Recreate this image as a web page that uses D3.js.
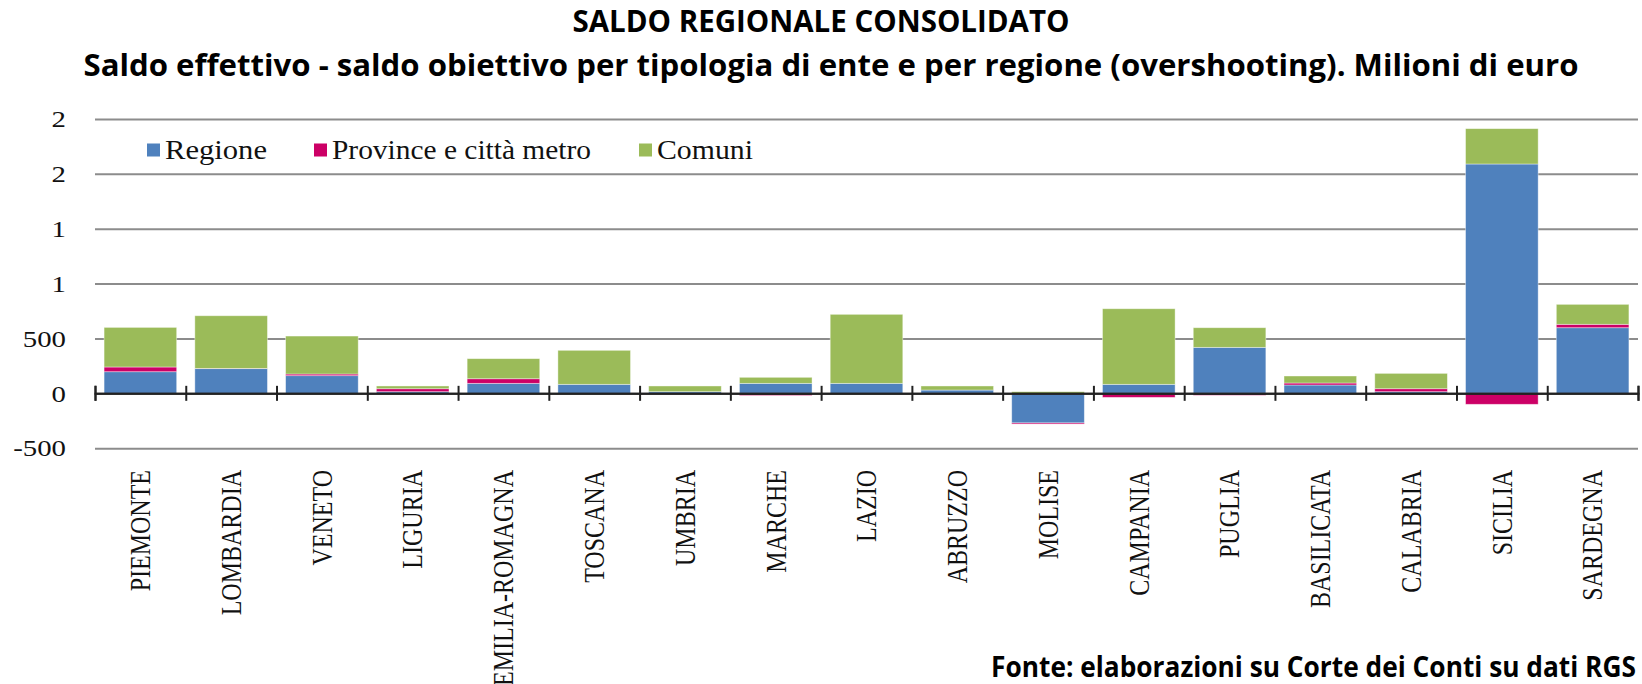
<!DOCTYPE html>
<html>
<head>
<meta charset="utf-8">
<script src="https://cdn.jsdelivr.net/npm/d3@7"></script>
<style>
  body { margin: 0; background: #fff; }
  svg { display: block; }
</style>
</head>
<body>
<div id="chart"></div>
<script>
var regions = ["PIEMONTE", "LOMBARDIA", "VENETO", "LIGURIA", "EMILIA-ROMAGNA", "TOSCANA", "UMBRIA", "MARCHE", "LAZIO",
               "ABRUZZO", "MOLISE", "CAMPANIA", "PUGLIA", "BASILICATA", "CALABRIA", "SICILIA", "SARDEGNA"];
var regione  = [197, 225, 161, 15, 91, 82, 15, 91, 91, 30, -270, 82, 419, 76, 15, 2090, 598];
var province = [43, 2, 15, 27, 42, 0, 0, -20, 0, 0, -10, -37, -18, 18, 27, -100, 31];
var comuni   = [361, 480, 346, 25, 183, 310, 52, 55, 629, 37, 15, 689, 179, 64, 140, 322, 182];

var seriesNames = ["Regione", "Province e città metro", "Comuni"];
var yTickValues = [-500, 0, 500, 1000, 1500, 2000, 2500];
var yTickLabels = ["-500", "0", "500", "1", "1", "2", "2"];

var width = 1642, height = 684;
var colors = {regione: "#4f81bd", province: "#cc0066", comuni: "#9bbb59"};
var serif = "'Liberation Serif', 'DejaVu Serif', serif";
var sans = "'Open Sans', 'Noto Sans', sans-serif";

var svg = d3.select("#chart")
            .append("svg")
            .attr("width", width)
            .attr("height", height);

var table = regions.map(function(r, i) {
    return {region: r, regione: regione[i], province: province[i], comuni: comuni[i]};
});

var x = d3.scaleBand()
          .domain(regions)
          .range([95, 1638])
          .paddingInner(0.2)
          .paddingOuter(0.1);

// boundaries between categories, for the tick marks on the zero line
var edges = d3.scaleLinear()
              .domain([0, regions.length])
              .range([95, 1638]);

var y = d3.scaleLinear()
          .domain([-500, 2500])
          .range([448.2, 119]);

// stretch text horizontally like the original picture
function stretch(sel, k) {
    sel.each(function() {
        var w = this.getComputedTextLength();
        d3.select(this).attr("textLength", w * k).attr("lengthAdjust", "spacingAndGlyphs");
    });
}

// gridlines
svg.append("g")
   .attr("transform", "translate(95,0)")
   .call(d3.axisLeft(y).tickValues(yTickValues.filter(function(v) { return v !== 0; }))
                       .tickSize(-(1638 - 95)).tickFormat(""))
   .call(function(g) { g.select(".domain").remove(); })
   .selectAll("line")
       .attr("stroke", "#8c8c8c")
       .attr("stroke-width", 2);

// y labels
var yAxis = svg.append("g")
   .attr("transform", "translate(95,0)")
   .call(d3.axisLeft(y).tickValues(yTickValues).tickSize(0).tickPadding(29)
                       .tickFormat(function(d, i) { return yTickLabels[i]; }));
yAxis.select(".domain").remove();
yAxis.selectAll("text")
     .attr("font-family", serif)
     .attr("font-size", 24)
     .attr("fill", "#111")
     .call(stretch, 1.2);

// bars
var stack = d3.stack()
              .keys(["regione", "province", "comuni"])
              .offset(d3.stackOffsetDiverging);

svg.append("g")
   .selectAll("g")
   .data(stack(table))
   .enter()
   .append("g")
       .attr("fill", function(d) { return colors[d.key]; })
   .selectAll("rect")
   .data(function(d) { return d; })
   .enter()
   .append("rect")
       .attr("x", function(d) { return x(d.data.region); })
       .attr("y", function(d) { return y(Math.max(d[0], d[1])); })
       .attr("width", x.bandwidth())
       .attr("height", function(d) { return Math.abs(y(d[0]) - y(d[1])); })
       .attr("stroke", "#ffffff")
       .attr("stroke-opacity", 0.5)
       .attr("stroke-width", 0.8);

// zero line with ticks above and below
[d3.axisBottom, d3.axisTop].forEach(function(ax) {
    svg.append("g")
       .attr("transform", "translate(0," + y(0) + ")")
       .call(ax(edges).tickValues(d3.range(regions.length + 1)).tickSize(7.5).tickFormat(""))
       .call(function(g) {
           g.select(".domain").attr("stroke", "#222").attr("stroke-width", 2);
           g.selectAll("line").attr("stroke", "#222").attr("stroke-width", 2);
       });
});

// category labels
var xAxis = svg.append("g")
   .attr("transform", "translate(0,470)")
   .call(d3.axisBottom(x).tickSize(0));
xAxis.select(".domain").remove();
xAxis.selectAll("text")
     .attr("font-family", serif)
     .attr("font-size", 24)
     .attr("fill", "#111")
     .attr("text-anchor", "end")
     .attr("x", 0)
     .attr("y", 0)
     .attr("dy", "0.34em")
     .attr("transform", "rotate(-90) scale(1,1.2)");

// legend
var legendX = [147, 314, 639];
var legendW = [102, 259, 96];
var legend = svg.append("g")
   .selectAll("g")
   .data(seriesNames)
   .enter()
   .append("g")
       .attr("transform", function(d, i) { return "translate(" + legendX[i] + ",0)"; });
legend.append("rect")
      .attr("x", 0)
      .attr("y", 143.5)
      .attr("width", 13)
      .attr("height", 13)
      .attr("fill", function(d, i) { return colors[["regione", "province", "comuni"][i]]; });
legend.append("text")
      .attr("x", 18)
      .attr("y", 158.5)
      .attr("font-family", serif)
      .attr("font-size", 28)
      .attr("fill", "#111")
      .attr("textLength", function(d, i) { return legendW[i]; })
      .attr("lengthAdjust", "spacingAndGlyphs")
      .text(function(d) { return d; });

// titles
svg.append("text")
   .attr("x", 821)
   .attr("y", 32)
   .attr("text-anchor", "middle")
   .attr("font-family", sans)
   .attr("font-weight", "bold")
   .attr("font-size", 31)
   .attr("textLength", 497)
   .attr("lengthAdjust", "spacingAndGlyphs")
   .text("SALDO REGIONALE CONSOLIDATO");

svg.append("text")
   .attr("x", 831)
   .attr("y", 76)
   .attr("text-anchor", "middle")
   .attr("font-family", sans)
   .attr("font-weight", "bold")
   .attr("font-size", 31)
   .attr("textLength", 1495)
   .attr("lengthAdjust", "spacingAndGlyphs")
   .text("Saldo effettivo - saldo obiettivo per tipologia di ente e per regione (overshooting). Milioni di euro");

svg.append("text")
   .attr("x", 1636)
   .attr("y", 677)
   .attr("text-anchor", "end")
   .attr("font-family", sans)
   .attr("font-weight", "bold")
   .attr("font-size", 29)
   .attr("textLength", 645)
   .attr("lengthAdjust", "spacingAndGlyphs")
   .text("Fonte: elaborazioni su Corte dei Conti su dati RGS");
</script>
</body>
</html>
